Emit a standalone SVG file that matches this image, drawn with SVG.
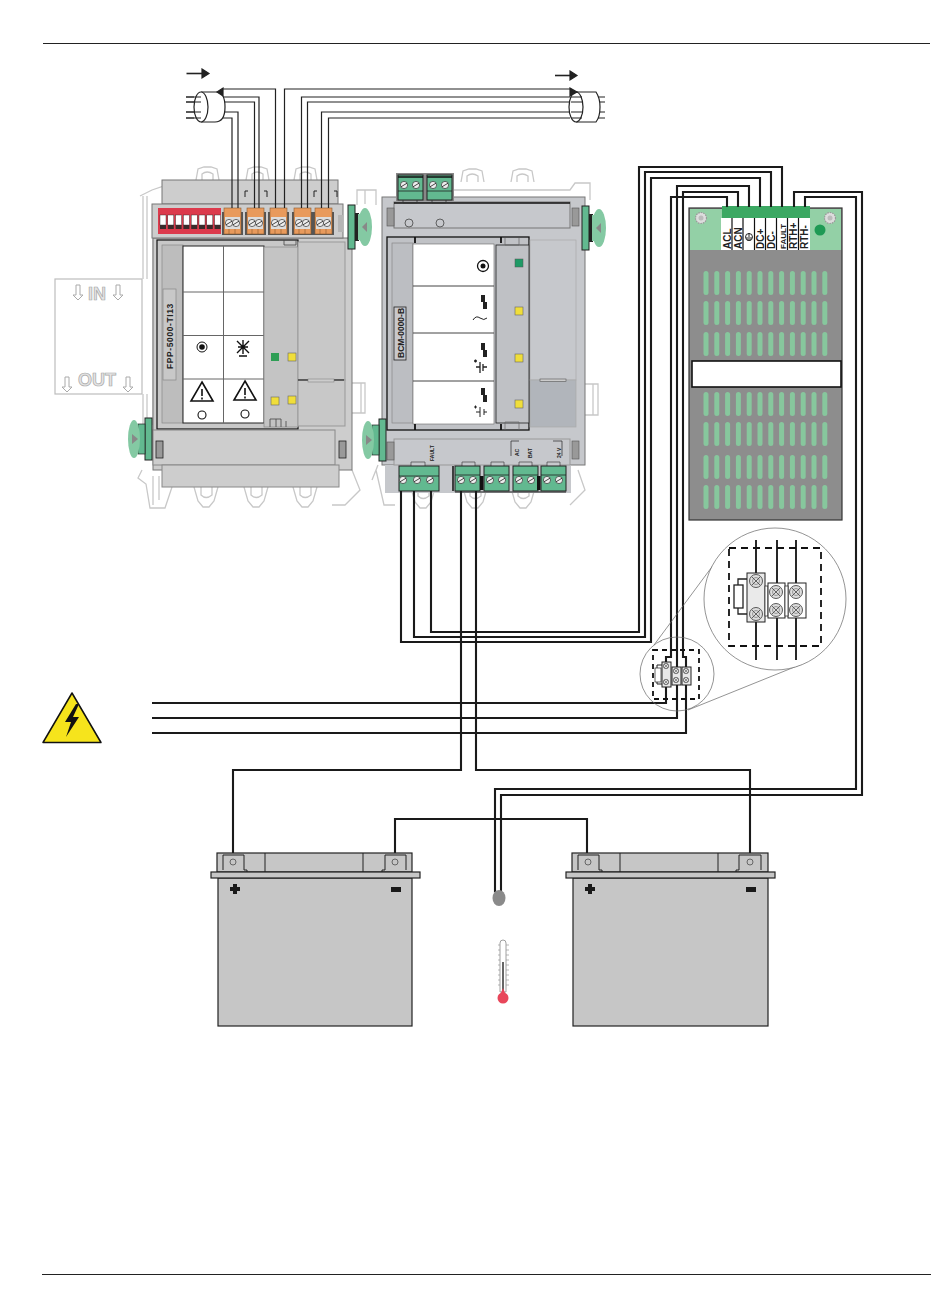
<svg xmlns="http://www.w3.org/2000/svg" xmlns:xlink="http://www.w3.org/1999/xlink" width="950" height="1301" viewBox="0 0 950 1301">
<style>
text{font-family:"Liberation Sans",Arial,sans-serif;font-weight:bold;fill:#222}
.w{fill:none;stroke:#1a1a1a;stroke-width:2.100;stroke-linejoin:miter}
.t{fill:none;stroke:#222;stroke-width:1.200}
.g{fill:none;stroke:#c8c8c8;stroke-width:1.300}
.grn{fill:#6dbb94;stroke:#222;stroke-width:1}
.gy{fill:#cdcdcd;stroke:#777;stroke-width:1}
.by{fill:#c6c8cc;stroke:#777;stroke-width:1}
.sl{fill:#87c79d}
.bat{fill:#c6c6c6;stroke:#222;stroke-width:1.200}
.y{fill:#f0de3a;stroke:#666;stroke-width:.6}
.dash{fill:none;stroke:#111;stroke-dasharray:7 5}
.thin{fill:none;stroke:#666;stroke-width:.7}
</style>
<defs>
<g id="screw"><circle r="3.600" fill="#eee" stroke="#333" stroke-width=".7"/><line x1="-3" y1="1.800" x2="3" y2="-1.800" stroke="#333" stroke-width=".9"/></g>
<g id="xscrew"><circle r="6.500" fill="#ddd" stroke="#333" stroke-width=".8"/><circle r="3.500" fill="none" stroke="#666" stroke-width=".6"/><path d="M-4-4 4 4M-4 4 4-4" stroke="#444" stroke-width=".8"/></g>
<g id="pscrew"><circle r="5.500" fill="#ddd" stroke="#999" stroke-width="1.200" stroke-dasharray="1.500 1"/><circle r="2.500" fill="#bbb"/></g>
<g id="sscrew"><circle r="2.700" fill="#ddd" stroke="#333" stroke-width=".6"/><path d="M-2-2 2 2M-2 2 2-2" stroke="#444" stroke-width=".5"/></g>
<g id="orange"><rect x="-2" y="4" width="21" height="23" fill="#555"/><rect width="17" height="26" fill="#e89a5c" stroke="#8a5a30" stroke-width=".6"/><rect x="1" y="9" width="15" height="12" fill="#ddd"/><use xlink:href="#screw" x="5" y="15"/><use xlink:href="#screw" x="12" y="15"/><path d="M5 21v5M11 21v5" stroke="#8a5a30" stroke-width=".6"/></g>
<g id="blk"><rect width="25" height="25" fill="#62b990" stroke="#222" stroke-width="1"/><line x2="25" y1="9" y2="9" stroke="#222" stroke-width=".8"/><use xlink:href="#screw" x="6" y="14"/><use xlink:href="#screw" x="18" y="14"/></g>
<g id="topblk"><rect x="-2" y="-2" width="29" height="28" fill="#888"/><rect width="25" height="25" fill="#62b990" stroke="#222" stroke-width="1"/><line x2="25" y1="2" y2="2" stroke="#111" stroke-width="1.500"/><line x2="25" y1="16" y2="16" stroke="#222" stroke-width=".8"/><use xlink:href="#screw" x="6" y="10"/><use xlink:href="#screw" x="18" y="10"/></g>
<g id="knobR"><rect x="0" y="0" width="7" height="44" fill="#62b990" stroke="#222"/><rect x="7" y="8" width="4" height="28" fill="#222"/><ellipse cx="17" cy="22" rx="7" ry="19" fill="#84c9a3"/><rect x="10" y="9" width="6" height="26" fill="#84c9a3"/><path d="M14 22l5-5v10z" fill="#888"/></g>
<g id="knobL"><rect x="17" y="0" width="7" height="42" fill="#62b990" stroke="#222"/><rect x="10" y="6" width="7" height="30" fill="#62b990" stroke="#222" stroke-width=".7"/><ellipse cx="6" cy="21" rx="6" ry="19" fill="#84c9a3"/><path d="M10 21l-6-5v10z" fill="#888"/></g>
<rect id="slot" x="-2.500" width="5" height="24" rx="2.500" class="sl"/>
<g id="mount"><path class="g" d="M1 14 3 3 9 1 16 1 22 3 24 14M7 14V8Q12 4 18 8V14"/></g>
<g id="mountB"><path class="g" d="M1 0 5 14 10 20H16L21 14 25 0M8 0V8Q13 13 19 8V0"/></g>
<g id="warn"><path d="M0-11 11 8H-11Z" fill="#fff" stroke="#111" stroke-width="1.600"/><path d="M0-4V3M0 4.500V6.500" stroke="#111" stroke-width="1.600"/></g>
</defs>

<g id="page-rules"><line x1="43" y1="43.500" x2="930" y2="43.500" stroke="#222"/><line x1="42" y1="1274.500" x2="931" y2="1274.500" stroke="#222"/></g>

<g id="in-out-label">
<rect x="55" y="279" width="87" height="115" fill="#fff" stroke="#bdbdbd" stroke-width="1.200"/>
<text x="97" y="300" text-anchor="middle" font-size="18" style="fill:#e4e4e4;stroke:#a8a8a8;stroke-width:.7">IN</text>
<text x="97" y="386" text-anchor="middle" font-size="18" style="fill:#e4e4e4;stroke:#a8a8a8;stroke-width:.7">OUT</text>
<path d="M76 285h4v10h3l-5 5-5-5h3z" fill="#fff" stroke="#aaa"/>
<path d="M116 285h4v10h3l-5 5-5-5h3z" fill="#fff" stroke="#aaa"/>
<path d="M65 377h4v10h3l-5 5-5-5h3z" fill="#fff" stroke="#aaa"/>
<path d="M126 377h4v10h3l-5 5-5-5h3z" fill="#fff" stroke="#aaa"/>
</g>

<g id="module-fpp">
<use xlink:href="#mount" x="195" y="166"/><use xlink:href="#mount" x="245" y="166"/><use xlink:href="#mount" x="293" y="166"/>
<use xlink:href="#mountB" x="193" y="487"/><use xlink:href="#mountB" x="243" y="487"/><use xlink:href="#mountB" x="292" y="487"/>
<path class="g" d="M140 196 152 190 164 186V204M143 196V279M147 196V279M143 394V440M147 394V425M153 238V425M142 470 138 478 146 484 150 508H165L172 487M153 476V505M159 476V500M352 470 360 490 345 505H332M357 205V190H376V205M365 190V204M352 383h13v30h-13M361 383V413"/>
<rect class="gy" x="162" y="180" width="176" height="24"/>
<rect class="gy" x="153" y="238" width="199" height="232"/>
<rect class="gy" x="152" y="204" width="191" height="34"/>
<rect x="157" y="240" width="141" height="189" fill="#c8c8c8" stroke="#111" stroke-width="1.200"/>
<rect x="162" y="245" width="21" height="178" fill="#bdbdbd" stroke="#888" stroke-width=".7"/>
<rect x="163" y="289" width="13" height="91" fill="#c8c8c8" stroke="#888" stroke-width=".7"/>
<text transform="translate(173 369) rotate(-90)" font-size="8.500" letter-spacing=".6">FPP-5000-TI13</text>
<rect x="183" y="246" width="81" height="177" fill="#fff" stroke="#222"/>
<path d="M223.500 246V423M183 292H264M183 335.500H264M183 379H264" stroke="#666" fill="none"/>
<rect x="264" y="247" width="34" height="180" fill="#c4c4c4" stroke="#888" stroke-width=".7"/>
<rect x="298" y="242" width="47" height="138" fill="#c8c8c8" stroke="#999"/>
<rect x="298" y="380" width="47" height="46" fill="#c8c8c8" stroke="#999"/>
<line x1="298" y1="380" x2="344" y2="380" stroke="#111" stroke-width="1.200"/>
<rect x="308" y="379" width="26" height="3" fill="#ccc" stroke="#777" stroke-width=".5"/>
<path d="M284 240v5h12v-5M270 427v-8h11v8M276 419v8M286 421v6" fill="none" stroke="#444" stroke-width=".8"/>
<rect x="153" y="430" width="182" height="35" fill="#cdcdcd" stroke="#888"/>
<rect x="162" y="465" width="177" height="22" fill="#cdcdcd" stroke="#888"/>
<rect x="156" y="441" width="7" height="17" fill="#999" stroke="#222" stroke-width=".8"/>
<rect x="339" y="441" width="7" height="17" fill="#999" stroke="#222" stroke-width=".8"/>
<rect x="158" y="208" width="63" height="26" fill="#dc3a4c"/>
<g fill="#fff" stroke="#222" stroke-width=".4">
<rect x="160" y="215" width="6" height="10"/><rect x="167.800" y="215" width="6" height="10"/><rect x="175.600" y="215" width="6" height="10"/><rect x="183.400" y="215" width="6" height="10"/><rect x="191.200" y="215" width="6" height="10"/><rect x="199" y="215" width="6" height="10"/><rect x="206.800" y="215" width="6" height="10"/><rect x="214.600" y="215" width="6" height="10"/>
</g>
<g fill="#3a2b2b"><rect x="160" y="225" width="6" height="4"/><rect x="167.800" y="225" width="6" height="4"/><rect x="175.600" y="225" width="6" height="4"/><rect x="183.400" y="225" width="6" height="4"/><rect x="191.200" y="225" width="6" height="4"/><rect x="199" y="225" width="6" height="4"/><rect x="206.800" y="225" width="6" height="4"/><rect x="214.600" y="225" width="6" height="4"/></g>
<use xlink:href="#orange" x="224" y="208"/><use xlink:href="#orange" x="247" y="208"/><use xlink:href="#orange" x="270" y="208"/><use xlink:href="#orange" x="294" y="208"/><use xlink:href="#orange" x="315" y="208"/>
<rect x="338" y="215" width="5" height="17" fill="#b5b5b5"/>
<path d="M245 197v-6h3M267 197v-6h-3M314 197v-6h3M337 197v-6h-3" fill="none" stroke="#222"/>
<circle cx="202" cy="347" r="5" fill="#fff" stroke="#111"/><circle cx="202" cy="347" r="2.800" fill="#111"/>
<path d="M243 340v14M237 341 249 353M249 341 237 353M238 347H248M239 356H247" stroke="#111" stroke-width="1.400" fill="none"/>
<use xlink:href="#warn" x="202" y="393"/><use xlink:href="#warn" x="245" y="392"/>
<circle cx="202" cy="415" r="4" fill="#fff" stroke="#111" stroke-width="1.100"/><circle cx="245" cy="414" r="4" fill="#fff" stroke="#111" stroke-width="1.100"/>
<rect x="271" y="353" width="8" height="8" fill="#2f9e55"/><rect class="y" x="288" y="353" width="8" height="8"/><rect class="y" x="271" y="397" width="8" height="8"/><rect class="y" x="288" y="396" width="8" height="8"/>
<use xlink:href="#knobR" x="348" y="205"/><use xlink:href="#knobL" x="128" y="418"/>
</g>

<g id="module-bcm">
<use xlink:href="#mount" x="460" y="168"/><use xlink:href="#mount" x="510" y="168"/>
<use xlink:href="#mountB" x="410" y="488"/><use xlink:href="#mountB" x="462" y="488"/><use xlink:href="#mountB" x="510" y="488"/>
<path class="g" d="M452 190H570L575 183H590V200M578 470 585 490 570 505M585 384h13v31h-13M593 384V415M376 470 384 505H395M378 465 372 480"/>
<rect class="by" x="382" y="197" width="203" height="268"/>
<rect x="385" y="465" width="186" height="28" fill="#c6c8cc"/>
<rect x="394" y="202" width="176" height="26" fill="#c6c8cc" stroke="#777"/>
<line x1="394" y1="203" x2="570" y2="203" stroke="#111" stroke-width="1.400"/>
<rect x="387" y="208" width="7" height="18" fill="#999" stroke="#555" stroke-width=".6"/><rect x="572" y="208" width="7" height="18" fill="#999" stroke="#555" stroke-width=".6"/>
<circle cx="409" cy="223" r="4" fill="none" stroke="#444" stroke-width=".8"/><circle cx="440" cy="223" r="4" fill="none" stroke="#444" stroke-width=".8"/>
<rect x="387" y="237" width="142" height="193" fill="#c0c2c6" stroke="#111" stroke-width="1.300"/>
<rect x="392" y="243" width="21" height="180" fill="#bcbec2" stroke="#888" stroke-width=".7"/>
<rect x="394" y="307" width="12" height="53" fill="#c8c8cc" stroke="#222" stroke-width=".8"/>
<text transform="translate(403.500 358) rotate(-90)" font-size="8.500">BCM-0000-B</text>
<rect x="413" y="244" width="81" height="180" fill="#fff" stroke="#666" stroke-width=".6"/>
<path d="M413 286H494M413 333H494M413 381H494" stroke="#444"/>
<rect x="496" y="245" width="33" height="178" fill="#bfc1c5" stroke="#222" stroke-width=".8"/>
<rect x="530" y="240" width="46" height="140" fill="#c6c8cc" stroke="#aaa" stroke-width=".7"/>
<rect x="530" y="380" width="46" height="47" fill="#b1b5bb" stroke="#aaa" stroke-width=".7"/>
<rect x="540" y="379" width="26" height="2.500" fill="#ccc" stroke="#555" stroke-width=".6"/>
<path d="M415 237v6M415 424v6M501 237v6M501 424v6" stroke="#111" stroke-width="1.800"/>
<path d="M505 238v7h14v-7M505 430v-8h14v8" fill="none" stroke="#666" stroke-width=".7"/>
<rect x="515" y="259" width="8" height="8" fill="#1e9a66" stroke="#555" stroke-width=".5"/>
<rect class="y" x="515" y="307" width="8" height="8"/><rect class="y" x="515" y="354" width="8" height="8"/><rect class="y" x="515" y="400" width="8" height="8"/>
<circle cx="483" cy="266" r="5.500" fill="#fff" stroke="#111" stroke-width="1.300"/><circle cx="483" cy="266" r="2.500" fill="#111"/>
<g fill="#222"><path d="M481 295h4v7h2v7h-4v-7h-2z"/><path d="M481 343h4v7h2v7h-4v-7h-2z"/><path d="M481 388h4v7h2v7h-4v-7h-2z"/></g>
<path d="M473 320q3-5 7-2t7 0" fill="none" stroke="#222"/>
<path d="M474 361h3M475.500 359.500v3M476 367h4M480 362v11M483 364v7M483 367h4" stroke="#222" stroke-width="1.300" fill="none"/>
<path d="M474 407h3M475.500 405.500v3M476 412h4M480 407v10M484 409v6M484 412h3" stroke="#222" fill="none"/>
<rect x="394" y="439" width="176" height="26" fill="#c6c8cc" stroke="#999"/>
<rect x="387" y="442" width="7" height="18" fill="#999" stroke="#555" stroke-width=".6"/><rect x="572" y="441" width="7" height="18" fill="#999" stroke="#555" stroke-width=".6"/>
<g><text transform="translate(433.500 461) rotate(-90)" font-size="5">FAULT</text><text transform="translate(518.500 456) rotate(-90)" font-size="5">AC</text><text transform="translate(531.500 458) rotate(-90)" font-size="5">BAT</text><text transform="translate(560.500 458) rotate(-90)" font-size="5">24 V</text></g>
<path d="M511 456V441H519M553 441H562V456" fill="none" stroke="#222" stroke-width=".7"/>
<path d="M411 466v-4h14v4M462 466v-4h13v4M491 466v-4h13v4M519 466v-4h13v4M547 466v-4h13v4" fill="#c6c8cc" stroke="#444" stroke-width=".7"/>
<g id="bottom-terminals">
<rect x="399" y="466" width="40" height="25" fill="#62b990" stroke="#222"/><line x1="399" y1="476" x2="439" y2="476" stroke="#222" stroke-width=".8"/><use xlink:href="#screw" x="403" y="480"/><use xlink:href="#screw" x="417" y="480"/><use xlink:href="#screw" x="430" y="480"/>
<line x1="453" y1="466" x2="453" y2="491" stroke="#111" stroke-width="1.500"/>
<use xlink:href="#blk" x="455" y="466"/><use xlink:href="#blk" x="484" y="466"/><use xlink:href="#blk" x="513" y="466"/><use xlink:href="#blk" x="541" y="466"/>
<rect x="480" y="476" width="3.500" height="14" fill="#111"/><rect x="537" y="476" width="3.500" height="14" fill="#111"/>
<line x1="455" y1="492" x2="566" y2="492" stroke="#222"/>
</g>
<use xlink:href="#topblk" x="398" y="175"/><use xlink:href="#topblk" x="427" y="175"/>
<path d="M403 200v3h14v-3M432 200v3h14v-3" fill="none" stroke="#333" stroke-width=".8"/>
<use xlink:href="#knobR" x="582" y="206"/><use xlink:href="#knobL" x="362" y="419"/>
</g>

<g id="power-supply">
<rect x="689" y="208" width="153" height="312" fill="#8d8d8d" stroke="#333" stroke-width="1.200"/>
<rect x="690" y="209" width="151" height="41" fill="#93d0a6"/>
<use xlink:href="#pscrew" x="701" y="218"/><use xlink:href="#pscrew" x="830" y="218"/>
<circle cx="820" cy="230" r="5.500" fill="#1e9a55"/>
<rect x="721" y="218" width="89" height="32" fill="#fff"/>
<path d="M732 218v32M743 218v32M754.500 218v32M765.500 218v32M776.500 218v32M787.500 218v32M798.500 218v32" stroke="#111" stroke-width="1.200"/>
<rect x="722" y="206" width="88" height="12" fill="#3ba862"/>
<g font-size="10">
<text transform="translate(730.500 249) rotate(-90)">ACL</text>
<text transform="translate(741.500 249) rotate(-90)">ACN</text>
<text transform="translate(764 249) rotate(-90)">DC+</text>
<text transform="translate(775 249) rotate(-90)">DC-</text>
<text transform="translate(785.500 249) rotate(-90)" font-size="8">FAULT</text>
<text transform="translate(797 249) rotate(-90)">RTH+</text>
<text transform="translate(808 249) rotate(-90)">RTH-</text>
</g>
<g fill="none" stroke="#111" stroke-width=".9"><circle cx="749" cy="237" r="3.500"/><path d="M749 233V237M746 238H752M747 240H751"/></g>
<g id="vent">
<g id="vr"><use xlink:href="#slot" x="706" y="271"/><use xlink:href="#slot" x="716.800" y="271"/><use xlink:href="#slot" x="727.600" y="271"/><use xlink:href="#slot" x="738.400" y="271"/><use xlink:href="#slot" x="749.200" y="271"/><use xlink:href="#slot" x="760" y="271"/><use xlink:href="#slot" x="770.800" y="271"/><use xlink:href="#slot" x="781.600" y="271"/><use xlink:href="#slot" x="792.400" y="271"/><use xlink:href="#slot" x="803.200" y="271"/><use xlink:href="#slot" x="814" y="271"/><use xlink:href="#slot" x="824.800" y="271"/></g>
<use xlink:href="#vr" y="30"/><use xlink:href="#vr" y="61"/><use xlink:href="#vr" y="121"/><use xlink:href="#vr" y="151"/><use xlink:href="#vr" y="184"/><use xlink:href="#vr" y="214"/>
</g>
<rect x="692" y="361" width="149" height="26" fill="#fff" stroke="#111" stroke-width="1.600"/>
</g>

<g id="connectors">
<g id="cable-wires" class="t">
<path d="M186 97H194M186 102H194M186 112H194M186 118H194"/>
<path d="M222 89H275.500V208M284.500 208V89H570"/>
<path d="M220 97H259V208M222 102H254.500V208M225 112H238V208M220 118H232V208"/>
<path d="M570 97H301.500V208M570 102H307.500V208M570 112H321.500V208M570 118H328.500V208"/>
<path d="M598 97H605M598 102H605M598 112H605M598 118H605"/>
</g>
<path class="w" d="M431 491V632H639V167H782V207"/>
<path class="w" d="M414 491V637H645V172H771V207"/>
<path class="w" d="M401 491V642H651V178H760V207"/>
<path class="w" d="M152 703H666V657H671V197H727V207"/>
<path class="w" d="M152 718H677V186H749V207"/>
<path class="w" d="M152 733H686V657H683V192H738V207"/>
<path class="w" d="M794 207V192H862V795H501V892"/>
<path class="w" d="M805 207V197H856V789H495V892"/>
<path class="w" d="M461 491V770H233V858"/>
<path class="w" d="M476 491V770H750V858"/>
<path class="w" d="M395 858V819H587V858"/>
</g>

<g id="cables">
<g id="cable-in" fill="#fff" stroke="#222" stroke-width="1.200">
<path d="M201 92H217Q225 93 225 107Q225 122 215 122H201"/>
<ellipse cx="201" cy="107" rx="7" ry="15"/>
<path d="M186 97H201M186 102H201M186 112H201M186 118H201" fill="none"/>
<path d="M217 92 223 88 223 96Z" fill="#222"/>
<path d="M186.500 73.500H203" stroke-width="1.600"/><path d="M202 69 209 73.500 202 78Z" fill="#222"/>
</g>
<g id="cable-out" fill="#fff" stroke="#222" stroke-width="1.200">
<path d="M576 92H596Q600 98 600 107Q600 117 596 122H576"/>
<ellipse cx="576" cy="107" rx="7" ry="15"/>
<path d="M571 97H582M571 102H583M571 112H583M571 118H582" fill="none"/>
<path d="M577 92 570 88 570 96Z" fill="#222"/>
<path d="M555 75.500H571" stroke-width="1.600"/><path d="M570 71 577 75.500 570 80Z" fill="#222"/>
</g>
</g>

<g id="breaker-small">
<circle cx="677" cy="674" r="37" fill="none" stroke="#666" stroke-width=".7"/>
<rect x="653" y="650" width="46" height="49" class="dash" stroke-width="1.800" style="stroke-dasharray:5 4"/>
<rect x="655" y="668" width="6" height="14" fill="#fff" stroke="#222" stroke-width=".7"/>
<path d="M657 668V665H662M657 682V684H662" fill="none" stroke="#222"/>
<rect x="662" y="662" width="9" height="25" fill="#e8e8e8" stroke="#222"/>
<rect x="672" y="667" width="9" height="18" fill="#e8e8e8" stroke="#222"/>
<rect x="682" y="667" width="9" height="18" fill="#e8e8e8" stroke="#222"/>
<use xlink:href="#sscrew" x="666" y="666"/><use xlink:href="#sscrew" x="666" y="682"/><use xlink:href="#sscrew" x="676" y="671"/><use xlink:href="#sscrew" x="676" y="680"/><use xlink:href="#sscrew" x="686" y="671"/><use xlink:href="#sscrew" x="686" y="680"/>
</g>
<g id="breaker-detail">
<path class="thin" d="M654 645 717 560M688 710 802 664"/>
<circle cx="775" cy="599" r="71" fill="#fff" stroke="#666" stroke-width=".7"/>
<rect x="729" y="548" width="92" height="98" class="dash" stroke-width="1.800"/>
<path d="M756 540V660M777 540V660M796 540V660" stroke="#111" stroke-width="1.800"/>
<rect x="734" y="585" width="9" height="23" fill="#fff" stroke="#222" stroke-width="1.300"/>
<path d="M738 585V579H748M738 608V614H748" fill="none" stroke="#222" stroke-width="1.300"/>
<rect x="747" y="573" width="18" height="49" fill="#eaeaea" stroke="#222"/>
<rect x="765" y="586" width="3" height="30" fill="#fff" stroke="#222" stroke-width=".7"/>
<rect x="768" y="583" width="17" height="35" fill="#fff" stroke="#222"/>
<rect x="788" y="583" width="18" height="35" fill="#fff" stroke="#222"/>
<rect x="785" y="586" width="3" height="30" fill="#fff" stroke="#222" stroke-width=".7"/>
<use xlink:href="#xscrew" x="756" y="581"/><use xlink:href="#xscrew" x="756" y="614"/><use xlink:href="#xscrew" x="776" y="592"/><use xlink:href="#xscrew" x="776" y="610"/><use xlink:href="#xscrew" x="796" y="592"/><use xlink:href="#xscrew" x="796" y="610"/>
</g>

<g id="warning-sign">
<path d="M72 693 101 742.500H43Z" fill="#f6e41c" stroke="#111" stroke-width="1.500" stroke-linejoin="round"/>
<path d="M76 704 65 722 71 722 66 737 79 717 73 717 79 704Z" fill="#111"/>
</g>

<g id="battery-1">
<rect class="bat" x="217" y="853" width="195" height="19"/>
<rect class="bat" x="218" y="878" width="194" height="148"/>
<rect class="bat" x="211" y="872" width="209" height="6"/>
<path d="M265 853V872M363 853V872" stroke="#222"/>
<path d="M223 870V855H244V870H247V872" fill="none" stroke="#222"/><path d="M406 870V855H385V870H382V872" fill="none" stroke="#222"/>
<circle cx="233" cy="862" r="3" fill="none" stroke="#666"/><circle cx="395" cy="862" r="3" fill="none" stroke="#666"/>
<path d="M233 884h4v3h3v4h-3v3h-4v-3h-3v-4h3z" fill="#1a1a1a"/><rect x="391" y="887" width="10" height="5" fill="#1a1a1a"/>
</g>
<g id="battery-2">
<rect class="bat" x="572" y="853" width="196" height="19"/>
<rect class="bat" x="573" y="878" width="195" height="148"/>
<rect class="bat" x="566" y="872" width="209" height="6"/>
<path d="M620 853V872M718 853V872" stroke="#222"/>
<path d="M578 870V855H599V870H602V872" fill="none" stroke="#222"/><path d="M761 870V855H739V870H736V872" fill="none" stroke="#222"/>
<circle cx="588" cy="862" r="3" fill="none" stroke="#666"/><circle cx="750" cy="862" r="3" fill="none" stroke="#666"/>
<path d="M588 884h4v3h3v4h-3v3h-4v-3h-3v-4h3z" fill="#1a1a1a"/><rect x="746" y="887" width="10" height="5" fill="#1a1a1a"/>
</g>

<g id="thermistor"><ellipse cx="499" cy="898" rx="6.500" ry="8" fill="#8a8a8a"/></g>
<g id="thermometer">
<path d="M500 943a3 3 0 0 1 6 0V992H500Z" fill="#fff" stroke="#888" stroke-width=".8"/>
<line x1="503" y1="962" x2="503" y2="992" stroke="#333" stroke-width="1.500"/>
<path d="M498 945H500M506 945H509M498 950H500M506 950H509M498 955H500M506 955H509M498 960H500M506 960H509M498 965H500M506 965H509M498 970H500M506 970H509M498 975H500M506 975H509M498 980H500M506 980H509M498 985H500M506 985H509" stroke="#999" stroke-width=".7"/>
<circle cx="503" cy="998" r="5.500" fill="#e8465a"/><path d="M500 995 503 988 506 995Z" fill="#e8465a"/>
</g>
</svg>
